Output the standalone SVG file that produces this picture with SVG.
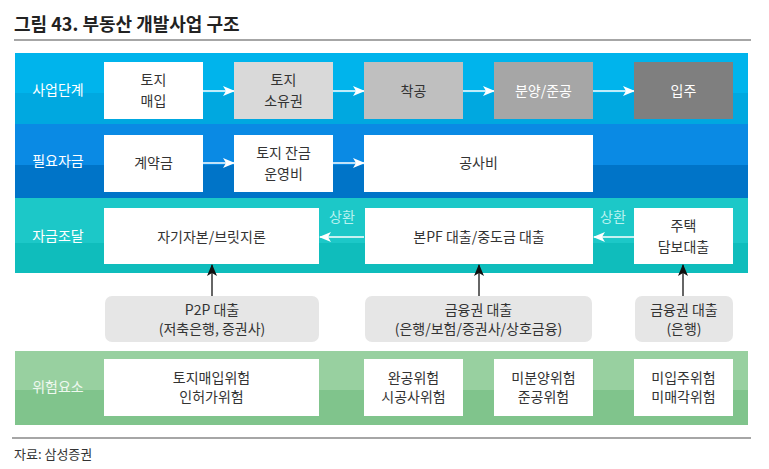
<svg xmlns="http://www.w3.org/2000/svg" width="769" height="469" viewBox="0 0 769 469">
<defs>
<style>
text{font-family:"Noto Sans CJK KR","Noto Sans",sans-serif;font-size:14px;fill:#333;text-anchor:middle}
.lbl{fill:#fff;font-size:14px}
.lbl4{fill:#eef8ef;font-size:14px}
.wt{fill:#fff}
.box{fill:#fff}
.gbox{fill:#e6e6e6}
.wa{stroke:#fff;stroke-width:1.5;fill:none}
.ba{stroke:#333;stroke-width:1.5;fill:none}
.rep{fill:#b8f2f0;font-size:14px}
</style>
<marker id="wh" viewBox="0 0 12 10" refX="11" refY="5" markerWidth="12" markerHeight="10" markerUnits="userSpaceOnUse" orient="auto">
<path d="M0,0 L12,5 L0,10 L3,5 Z" fill="#fff"/>
</marker>
<marker id="bh" viewBox="0 0 12 10" refX="11" refY="5" markerWidth="12" markerHeight="10" markerUnits="userSpaceOnUse" orient="auto">
<path d="M0,0 L12,5 L0,10 L3,5 Z" fill="#111"/>
</marker>
</defs>
<rect width="769" height="469" fill="#fff"/>
<text x="14" y="31" style="text-anchor:start;font-size:18px;font-weight:bold;fill:#222">그림 43. 부동산 개발사업 구조</text>
<line x1="14" y1="40" x2="751" y2="40" stroke="#888" stroke-width="1.5"/>

<g id="bands">
<rect x="15" y="53" width="733" height="40" fill="#00b4ec"/>
<rect x="15" y="93" width="733" height="31" fill="#00a8e0"/>
<rect x="15" y="124" width="733" height="41" fill="#0a8ae4"/>
<rect x="15" y="165" width="733" height="33" fill="#0074c8"/>
<rect x="15" y="198" width="733" height="45" fill="#1cc8c8"/>
<rect x="15" y="243" width="733" height="30" fill="#0fbdbc"/>
<rect x="15" y="351" width="733" height="39" fill="#98d0a0"/>
<rect x="15" y="390" width="733" height="35" fill="#80c48c"/>
<text class="lbl" x="58" y="95">사업단계</text>
<text class="lbl" x="58" y="166">필요자금</text>
<text class="lbl" x="58" y="241">자금조달</text>
<text class="lbl4" x="58" y="392">위험요소</text>
</g>

<g id="connectors">
<line class="wa" x1="203" y1="91" x2="234" y2="91" marker-end="url(#wh)"/>
<line class="wa" x1="333" y1="91" x2="364" y2="91" marker-end="url(#wh)"/>
<line class="wa" x1="463" y1="91" x2="494" y2="91" marker-end="url(#wh)"/>
<line class="wa" x1="593" y1="91" x2="634" y2="91" marker-end="url(#wh)"/>
<line class="wa" x1="203" y1="163" x2="234" y2="163" marker-end="url(#wh)"/>
<line class="wa" x1="333" y1="163" x2="364" y2="163" marker-end="url(#wh)"/>
<line class="wa" x1="364" y1="237" x2="320" y2="237" marker-end="url(#wh)"/>
<line class="wa" x1="634" y1="237" x2="594" y2="237" marker-end="url(#wh)"/>
<text class="rep" x="342" y="222">상환</text>
<text class="rep" x="613" y="222">상환</text>
<line class="ba" x1="212" y1="296" x2="212" y2="265" marker-end="url(#bh)"/>
<line class="ba" x1="479" y1="296" x2="479" y2="265" marker-end="url(#bh)"/>
<line class="ba" x1="683" y1="296" x2="683" y2="265" marker-end="url(#bh)"/>
</g>

<g id="n-land-buy"><rect class="box" x="104" y="62" width="99" height="57"/><text x="153.5" y="85">토지</text><text x="153.5" y="106">매입</text></g>
<g id="n-land-own"><rect x="234" y="62" width="99" height="57" fill="#d9d9d9"/><text x="283.5" y="85">토지</text><text x="283.5" y="106">소유권</text></g>
<g id="n-start"><rect x="364" y="62" width="99" height="57" fill="#bfbfbf"/><text x="413.5" y="96">착공</text></g>
<g id="n-sale"><rect x="494" y="62" width="99" height="57" fill="#a6a6a6"/><text class="wt" x="543.5" y="96">분양/준공</text></g>
<g id="n-move"><rect x="634" y="62" width="99" height="57" fill="#7f7f7f"/><text class="wt" x="683.5" y="96">입주</text></g>

<g id="n-deposit"><rect class="box" x="104" y="135" width="99" height="57"/><text x="153.5" y="168">계약금</text></g>
<g id="n-balance"><rect class="box" x="234" y="135" width="99" height="57"/><text x="283.5" y="158">토지 잔금</text><text x="283.5" y="179">운영비</text></g>
<g id="n-cost"><rect class="box" x="364" y="135" width="229" height="57"/><text x="478.5" y="168">공사비</text></g>

<g id="n-equity"><rect class="box" x="104" y="208" width="215" height="56"/><text x="211.5" y="242">자기자본/브릿지론</text></g>
<g id="n-pf"><rect class="box" x="365" y="208" width="228" height="56"/><text x="479" y="242">본PF 대출/중도금 대출</text></g>
<g id="n-mortgage"><rect class="box" x="634" y="208" width="99" height="56"/><text x="683.5" y="231">주택</text><text x="683.5" y="252">담보대출</text></g>

<g id="n-p2p"><rect class="gbox" x="105" y="296" width="214" height="46" rx="7"/><text x="212" y="315">P2P 대출</text><text x="212" y="334">(저축은행, 증권사)</text></g>
<g id="n-fin"><rect class="gbox" x="365" y="296" width="227" height="46" rx="7"/><text x="478.5" y="315">금융권 대출</text><text x="478.5" y="334">(은행/보험/증권사/상호금융)</text></g>
<g id="n-bank"><rect class="gbox" x="635" y="296" width="98" height="46" rx="7"/><text x="684" y="315">금융권 대출</text><text x="684" y="334">(은행)</text></g>

<g id="n-risk1"><rect class="box" x="104" y="359" width="215" height="57"/><text x="211.5" y="383">토지매입위험</text><text x="211.5" y="402">인허가위험</text></g>
<g id="n-risk2"><rect class="box" x="364" y="359" width="99" height="57"/><text x="413.5" y="383">완공위험</text><text x="413.5" y="402">시공사위험</text></g>
<g id="n-risk3"><rect class="box" x="494" y="359" width="99" height="57"/><text x="543.5" y="383">미분양위험</text><text x="543.5" y="402">준공위험</text></g>
<g id="n-risk4"><rect class="box" x="634" y="359" width="99" height="57"/><text x="683.5" y="383">미입주위험</text><text x="683.5" y="402">미매각위험</text></g>

<line x1="12" y1="438" x2="751" y2="438" stroke="#888" stroke-width="1.5"/>
<text x="14" y="459" style="text-anchor:start;font-size:13px">자료: 삼성증권</text>
</svg>
